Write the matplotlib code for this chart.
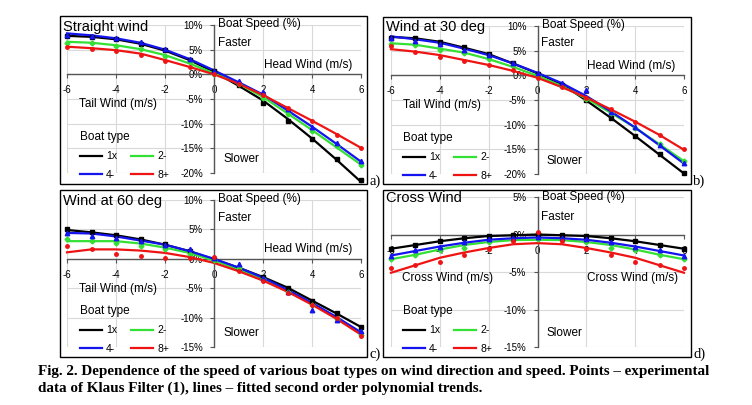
import numpy as np
import matplotlib
matplotlib.use("Agg")
import matplotlib.pyplot as plt
from matplotlib.lines import Line2D
from matplotlib.patches import Rectangle

plt.rcParams["font.family"] = ["Liberation Sans", "DejaVu Sans"]

W, H = 752, 405  # figure size in pixels (dpi 100)

# ── data ──────────────────────────────────────────────────────────────────────
wind = [-6, -5, -4, -3, -2, -1, 0, 1, 2, 3, 4, 5, 6]
boat_types = ["1x", "2-", "4-", "8+"]
x_ticks = [-6, -4, -2, 0, 2, 4, 6]
x_ticklabels = ["-6", "-4", "-2", "0", "2", "4", "6"]

# a) straight wind
a_fit_1x = [7.8, 7.6, 7.1, 6.2, 4.8, 2.9, 0.5, -2.3, -5.3, -9.0, -13.0, -17.3, -21.8]
a_pts_1x = [7.7, 7.6, 7.2, 6.2, 4.9, 2.9, 0.6, -2.1, -5.9, -9.5, -13.2, -17.2, -21.5]
a_fit_2 = [6.6, 6.4, 5.9, 5.1, 3.9, 2.2, 0.2, -1.9, -4.6, -7.9, -11.3, -14.8, -18.3]
a_pts_2 = [6.4, 6.4, 5.8, 5.2, 3.8, 2.4, 0.1, -2.0, -4.8, -8.1, -11.5, -14.6, -18.3]
a_fit_4 = [8.3, 7.9, 7.3, 6.4, 5.0, 3.1, 0.8, -1.6, -4.1, -7.3, -10.6, -14.1, -17.7]
a_pts_4 = [7.9, 7.8, 7.4, 6.5, 5.1, 3.2, 0.7, -1.3, -3.6, -7.1, -10.7, -14.0, -17.5]
a_fit_8 = [5.6, 5.3, 4.9, 4.2, 2.9, 1.5, 0.0, -1.9, -4.2, -6.8, -9.4, -12.1, -14.9]
a_pts_8 = [5.5, 5.2, 4.8, 4.0, 2.8, 1.4, 0.1, -2.0, -4.2, -6.9, -9.5, -12.2, -14.9]

# b) wind at 30 deg
b_fit_1x = [7.8, 7.5, 6.8, 5.6, 4.3, 2.4, 0.4, -1.8, -5.1, -8.6, -12.3, -16.1, -19.9]
b_pts_1x = [7.6, 7.6, 6.8, 5.8, 4.3, 2.4, 0.3, -1.9, -5.0, -8.6, -12.2, -15.9, -19.8]
b_fit_2 = [6.5, 6.2, 5.4, 4.6, 3.3, 1.7, -0.1, -2.2, -4.7, -7.6, -10.6, -14.0, -17.4]
b_pts_2 = [6.3, 6.1, 5.1, 4.5, 3.3, 1.9, 0.0, -2.2, -4.8, -7.6, -10.7, -13.9, -17.3]
b_fit_4 = [7.9, 7.3, 6.6, 5.4, 4.1, 2.4, 0.5, -1.6, -4.2, -7.3, -10.6, -14.2, -17.9]
b_pts_4 = [7.6, 6.9, 6.4, 5.2, 4.2, 2.6, 0.4, -1.5, -3.0, -7.4, -10.5, -14.1, -17.8]
b_fit_8 = [5.3, 4.8, 4.1, 3.1, 2.1, 0.9, -0.5, -2.4, -4.5, -6.9, -9.4, -12.1, -15.1]
b_pts_8 = [6.0, 4.7, 3.7, 3.0, 2.1, 1.0, -0.6, -2.4, -4.6, -6.8, -9.4, -12.1, -15.0]

# c) wind at 60 deg
c_fit_1x = [4.9, 4.5, 4.0, 3.3, 2.4, 1.3, -0.1, -1.5, -3.1, -4.9, -7.1, -9.3, -11.6]
c_pts_1x = [5.0, 4.6, 4.0, 3.4, 2.5, 1.3, 0.0, -1.6, -3.1, -5.0, -7.2, -9.3, -11.6]
c_fit_2 = [3.0, 3.0, 3.0, 2.6, 1.9, 1.0, -0.3, -1.8, -3.5, -5.5, -7.7, -10.1, -12.8]
c_pts_2 = [3.4, 3.0, 2.7, 2.2, 1.6, 0.9, -0.2, -1.6, -3.5, -5.7, -7.8, -10.2, -12.9]
c_fit_4 = [4.4, 4.3, 3.8, 3.1, 2.4, 1.3, 0.0, -1.5, -3.2, -5.3, -7.5, -9.9, -12.5]
c_pts_4 = [4.4, 3.9, 3.6, 3.0, 2.3, 1.6, 0.2, -0.9, -3.3, -5.7, -8.7, -10.4, -12.3]
c_fit_8 = [1.1, 1.6, 1.6, 1.4, 1.0, 0.3, -0.7, -2.1, -3.7, -5.6, -7.8, -10.2, -12.9]
c_pts_8 = [2.2, 1.7, 0.9, 0.5, 0.2, 0.1, 0.3, -2.0, -3.7, -5.8, -7.9, -10.1, -13.1]

# d) cross wind
d_fit_1x = [-1.9, -1.4, -0.9, -0.5, -0.2, -0.1, 0.0, -0.1, -0.2, -0.5, -0.9, -1.4, -1.9]
d_pts_1x = [-1.9, -1.4, -0.9, -0.5, -0.2, 0.0, 0.1, 0.0, -0.2, -0.5, -0.9, -1.4, -1.9]
d_fit_2 = [-3.3, -2.7, -2.0, -1.4, -1.0, -0.75, -0.7, -0.75, -1.0, -1.4, -2.0, -2.7, -3.3]
d_pts_2 = [-3.3, -2.7, -2.0, -1.8, -1.0, -0.7, -0.6, -0.7, -1.0, -1.8, -2.0, -2.7, -3.3]
d_fit_4 = [-2.8, -2.2, -1.6, -1.1, -0.7, -0.5, -0.4, -0.5, -0.7, -1.1, -1.6, -2.2, -2.8]
d_pts_4 = [-2.9, -2.1, -1.7, -1.0, -0.6, -0.4, -0.3, -0.4, -0.6, -1.0, -1.7, -2.1, -2.9]
d_fit_8 = [-5.1, -4.1, -3.1, -2.4, -1.8, -1.3, -1.15, -1.3, -1.8, -2.4, -3.1, -4.1, -5.1]
d_pts_8 = [-4.4, -4.0, -3.6, -2.7, -1.9, -0.8, 0.3, -0.8, -1.9, -2.7, -3.6, -4.0, -4.4]

yticks_20 = [-20, -15, -10, -5, 0, 5, 10]
ylabels_20 = ["-20%", "-15%", "-10%", "-5%", "0%", "5%", "10%"]
yticks_15 = [-15, -10, -5, 0, 5, 10]
ylabels_15 = ["-15%", "-10%", "-5%", "0%", "5%", "10%"]
yticks_d = [-15, -10, -5, 0, 5]
ylabels_d = ["-15%", "-10%", "-5%", "0%", "5%"]

colors = {"1x": "#000000", "2-": "#33e033", "4-": "#1414ee", "8+": "#ee1414"}
markers = {"1x": "s", "2-": "D", "4-": "^", "8+": "o"}
msizes = {"1x": 2.6, "2-": 2.5, "4-": 3.2, "8+": 2.5}

AXIS_C = "#555555"
GRID_C = "#d9d9d9"


def fig_rect(x0, y0, x1, y1):
    return [x0 / W, 1 - y1 / H, (x1 - x0) / W, (y1 - y0) / H]


def put(fig, x, y, s, **kw):
    kw.setdefault("va", "center")
    kw.setdefault("ha", "left")
    kw.setdefault("fontsize", 8.5)
    fig.text(x / W, 1 - y / H, s, **kw)


panels = [
    dict(title="Straight wind", tag="a)", plot=(67, 25, 361, 173), box=(60, 16, 367, 184),
         ylim=(-20, 10), yt=yticks_20, yl=ylabels_20,
         fits=[a_fit_1x, a_fit_2, a_fit_4, a_fit_8], pts=[a_pts_1x, a_pts_2, a_pts_4, a_pts_8]),
    dict(title="Wind at 30 deg", tag="b)", plot=(391, 26, 684, 174), box=(383, 17, 691, 184),
         ylim=(-20, 10), yt=yticks_20, yl=ylabels_20,
         fits=[b_fit_1x, b_fit_2, b_fit_4, b_fit_8], pts=[b_pts_1x, b_pts_2, b_pts_4, b_pts_8]),
    dict(title="Wind at 60 deg", tag="c)", plot=(67, 200, 361, 347), box=(60, 190, 367, 357),
         ylim=(-15, 10), yt=yticks_15, yl=ylabels_15,
         fits=[c_fit_1x, c_fit_2, c_fit_4, c_fit_8], pts=[c_pts_1x, c_pts_2, c_pts_4, c_pts_8]),
    dict(title="Cross Wind", tag="d)", plot=(391, 197, 684, 347), box=(383, 190, 691, 357),
         ylim=(-15, 5), yt=yticks_d, yl=ylabels_d,
         fits=[d_fit_1x, d_fit_2, d_fit_4, d_fit_8], pts=[d_pts_1x, d_pts_2, d_pts_4, d_pts_8]),
]

fig = plt.figure(figsize=(W / 100, H / 100), dpi=100)
fig.patch.set_facecolor("white")

for p in panels:
    x0, y0, x1, y1 = p["plot"]
    ax = fig.add_axes(fig_rect(x0, y0, x1, y1))
    ax.set_facecolor("none")

    for bt, fit, pts in zip(boat_types, p["fits"], p["pts"]):
        ax.plot(wind, fit, color=colors[bt], lw=1.6, zorder=3, clip_on=False)
        ax.plot(wind, pts, ls="none", marker=markers[bt], ms=msizes[bt],
                color=colors[bt], zorder=4, clip_on=False)

    ax.set_xlim(-6, 6)
    ax.set_ylim(*p["ylim"])
    ax.set_xticks(x_ticks)
    ax.set_xticklabels(x_ticklabels)
    ax.set_yticks(p["yt"])
    ax.set_yticklabels(p["yl"])
    ax.grid(True, color=GRID_C, lw=0.8, zorder=0)
    ax.set_axisbelow(True)
    ax.spines["left"].set_position(("data", 0))
    ax.spines["bottom"].set_position(("data", 0))
    for s in ("top", "right"):
        ax.spines[s].set_visible(False)
    for s in ("left", "bottom"):
        ax.spines[s].set_color(AXIS_C)
        ax.spines[s].set_linewidth(1.0)
        ax.spines[s].set_zorder(2)
    ax.tick_params(axis="both", direction="out", length=3, color=AXIS_C,
                   labelsize=7, pad=5)

    # legend: rows 1x | 2- , 4- | 8+
    order = ["1x", "4-", "2-", "8+"]
    leg_handles = [Line2D([], [], color=colors[k], lw=1.6) for k in order]
    ax.legend(leg_handles, order, loc="upper left", ncol=2, frameon=False,
              title="Boat type", title_fontsize=8.5, fontsize=7.5,
              alignment="left", handlelength=2.1, handletextpad=0.4,
              columnspacing=1.35, labelspacing=0.8, borderpad=0, borderaxespad=0,
              bbox_to_anchor=((p["box"][0] + 20) / W, 1 - (p["plot"][3] - 42) / H),
              bbox_transform=fig.transFigure)

    # chart area border
    bx0, by0, bx1, by1 = p["box"]
    fig.add_artist(Rectangle((bx0 / W, 1 - by1 / H), (bx1 - bx0) / W, (by1 - by0) / H,
                             transform=fig.transFigure, fill=False, ec="black", lw=1.0))

    # annotations
    yax = x0 + (x1 - x0) / 2  # pixel x of the 0 m/s axis
    put(fig, bx0 + 3, y0 + 1.5, p["title"], fontsize=10.5)
    put(fig, yax + 4, y0 + (-1.0 if p["tag"] != "d)" else 0), "Boat Speed (%)")
    put(fig, yax + 4, y0 + 17.5 if p["tag"] != "d)" else y0 + 20, "Faster")
    put(fig, yax + 9, y1 - 13.5, "Slower")
    if p["tag"] == "d)":
        put(fig, x0 + 11, 278, "Cross Wind (m/s)")
        put(fig, x1 - 6, 278, "Cross Wind (m/s)", ha="right")
    else:
        zero_px = y0 + (y1 - y0) * p["ylim"][1] / (p["ylim"][1] - p["ylim"][0])
        put(fig, x1 - 9, zero_px - 9.5, "Head Wind (m/s)", ha="right")
        put(fig, x0 + 12, zero_px + 30, "Tail Wind (m/s)")
    put(fig, bx1 + 2, by1 - 3, p["tag"], family="Liberation Serif", fontsize=10.5)

cap_kw = dict(family="Liberation Serif", fontweight="bold", fontsize=10.9)
put(fig, 38, 372, "Fig. 2. Dependence of the speed of various boat types on wind direction "
    "and speed. Points \u2013 experimental", **cap_kw)
put(fig, 38, 388, "data of Klaus Filter (1), lines \u2013 fitted second order polynomial trends.",
    **cap_kw)

fig.savefig("out.png", dpi=100)
